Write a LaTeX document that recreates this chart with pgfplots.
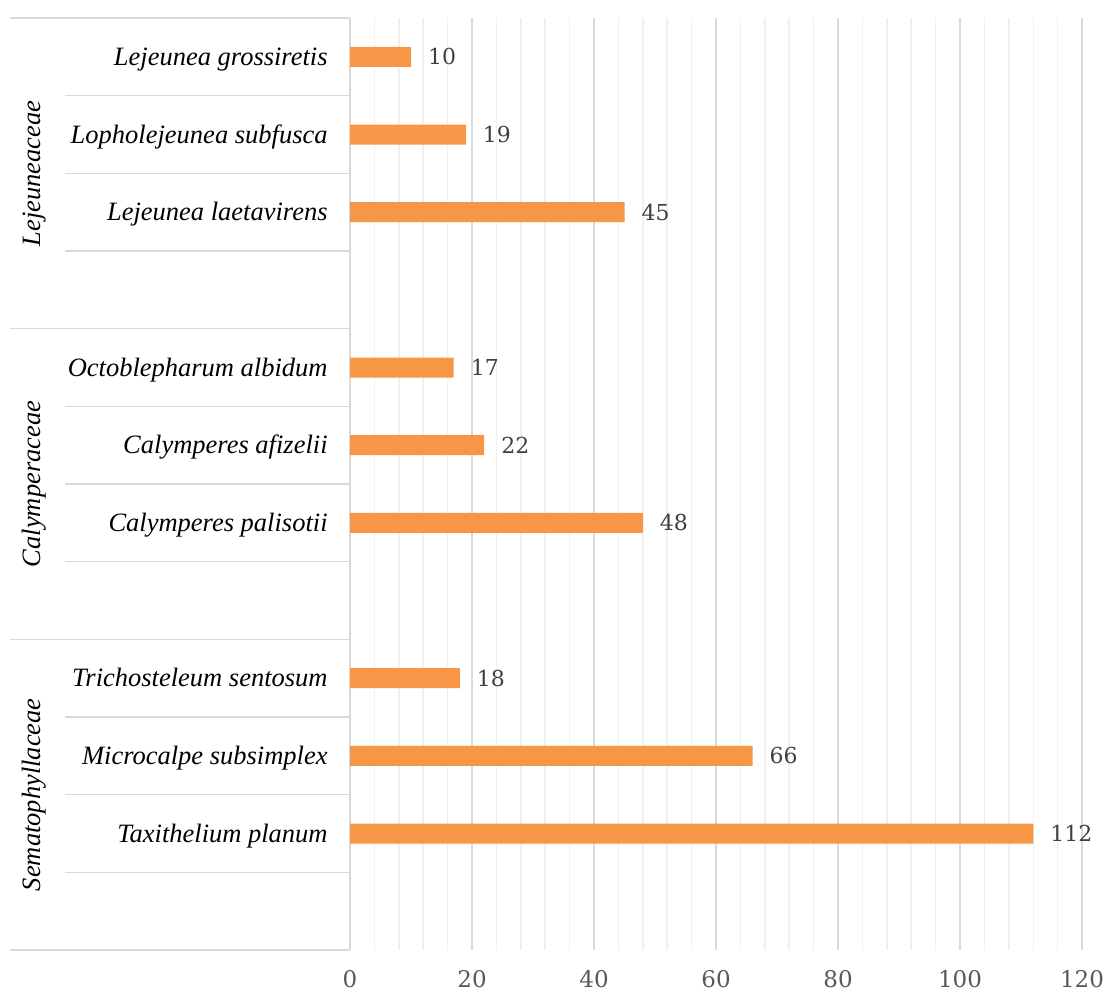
\documentclass[border=0pt]{standalone}
\usepackage{fontspec}
\setmainfont{Liberation Serif}
\newfontfamily\numfont{DejaVu Serif}
\usepackage{pgfplots}
\pgfplotsset{compat=1.18}
\definecolor{barorange}{HTML}{F79646}
\definecolor{majgrid}{HTML}{D9D9D9}
\definecolor{mingrid}{HTML}{F0F0F0}
\definecolor{sepgray}{HTML}{D9D9D9}
\definecolor{tickgray}{HTML}{595959}
\definecolor{valgray}{HTML}{404040}
\begin{document}
\begin{tikzpicture}
\begin{axis}[
  scale only axis, width=366pt, height=466pt,
  xmin=0, xmax=120, ymin=0, ymax=12,
  xbar, bar width=10pt,
  xtick={0,20,...,120}, minor x tick num=4,
  xmajorgrids, xminorgrids,
  major grid style={draw=majgrid, line width=0.75pt},
  minor grid style={draw=mingrid, line width=0.75pt},
  ytick={1.5,2.5,3.5,5.5,6.5,7.5,9.5,10.5,11.5},
  yticklabels={Taxithelium planum, Microcalpe subsimplex, Trichosteleum sentosum, Calymperes palisotii, Calymperes afizelii, Octoblepharum albidum, Lejeunea laetavirens, Lopholejeunea subfusca, Lejeunea grossiretis},
  yticklabel style={font=\fontsize{13.25}{16}\selectfont\itshape, anchor=base east, inner sep=0pt, xshift=-11pt, yshift=-4.3pt},
  xticklabel style={font=\numfont\fontsize{11.5}{14}\selectfont, text=tickgray, anchor=north, inner sep=0pt, yshift=-10pt},
  /pgf/number format/assume math mode=true,
  major tick length=0pt, minor tick length=0pt,
  axis lines*=left,
  x axis line style={draw=none},
  y axis line style={draw=sepgray, line width=0.75pt},
  clip=false,
  point meta=x,
  nodes near coords,
  nodes near coords style={font=\numfont\fontsize{11}{13}\selectfont, text=valgray, anchor=west, xshift=5pt},
]
\addplot[fill=barorange, draw=none] coordinates {
  (112,1.5) (66,2.5) (18,3.5)
  (48,5.5) (22,6.5) (17,7.5)
  (45,9.5) (19,10.5) (10,11.5)
};
% group separators
\draw[sepgray, line width=0.75pt] (axis cs:-55.7,0) -- (axis cs:0,0);
\draw[sepgray, line width=0.75pt] (axis cs:-55.7,4) -- (axis cs:0,4);
\draw[sepgray, line width=0.75pt] (axis cs:-55.7,8) -- (axis cs:0,8);
\draw[sepgray, line width=0.75pt] (axis cs:-55.7,12) -- (axis cs:0,12);
% species separators
\draw[sepgray, line width=0.75pt] (axis cs:-46.7,1) -- (axis cs:0,1);
\draw[sepgray, line width=0.75pt] (axis cs:-46.7,2) -- (axis cs:0,2);
\draw[sepgray, line width=0.75pt] (axis cs:-46.7,3) -- (axis cs:0,3);
\draw[sepgray, line width=0.75pt] (axis cs:-46.7,5) -- (axis cs:0,5);
\draw[sepgray, line width=0.75pt] (axis cs:-46.7,6) -- (axis cs:0,6);
\draw[sepgray, line width=0.75pt] (axis cs:-46.7,7) -- (axis cs:0,7);
\draw[sepgray, line width=0.75pt] (axis cs:-46.7,9) -- (axis cs:0,9);
\draw[sepgray, line width=0.75pt] (axis cs:-46.7,10) -- (axis cs:0,10);
\draw[sepgray, line width=0.75pt] (axis cs:-46.7,11) -- (axis cs:0,11);
% group labels
\node[rotate=90, anchor=base, font=\fontsize{13.25}{16}\selectfont\itshape] at (axis cs:-50.7,10) {Lejeuneaceae};
\node[rotate=90, anchor=base, font=\fontsize{13.25}{16}\selectfont\itshape] at (axis cs:-50.7,6) {Calymperaceae};
\node[rotate=90, anchor=base, font=\fontsize{13.25}{16}\selectfont\itshape] at (axis cs:-50.7,2) {Sematophyllaceae};
% bounding box
\path (axis cs:-57.38,-0.55) rectangle (axis cs:123.6,12.232);
\end{axis}
\end{tikzpicture}
\end{document}
